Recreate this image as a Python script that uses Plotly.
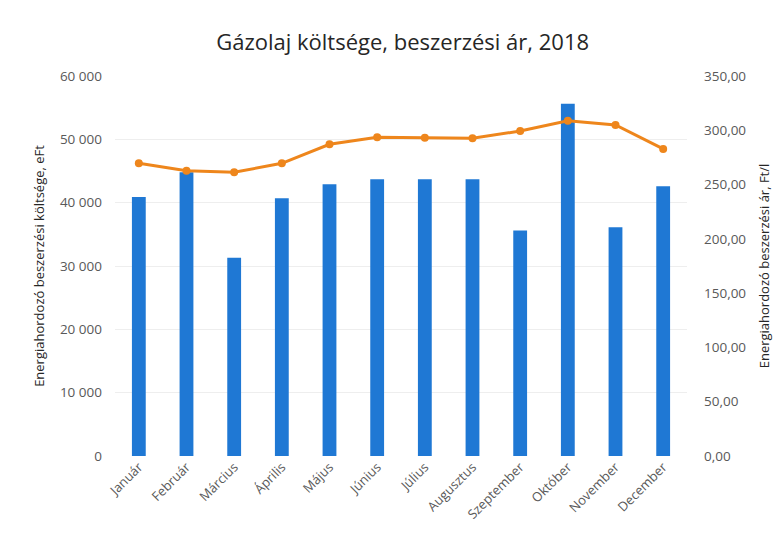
import plotly.graph_objects as go

months = ["Január", "Február", "Március", "Április", "Május", "Június",
          "Július", "Augusztus", "Szeptember", "Október", "November", "December"]
cost_eft = [40900, 44800, 31300, 40700, 42900, 43700, 43700, 43700, 35600, 55600, 36100, 42600]
price_ft_l = [269.6, 262.8, 261.3, 269.6, 287.1, 293.5, 293.2, 292.6, 299.3, 308.8, 304.9, 282.8]

left_ticks = [0, 10000, 20000, 30000, 40000, 50000, 60000]
right_ticks = [0, 50, 100, 150, 200, 250, 300, 350]

font_family = "Open Sans, Noto Sans, sans-serif"
tick_color = "#595959"

fig = go.Figure()
fig.add_trace(go.Bar(
    x=months, y=cost_eft, name="Költség",
    marker=dict(color="#1f78d4", line=dict(width=0)),
    yaxis="y",
))
fig.add_trace(go.Scatter(
    x=months, y=price_ft_l, name="Ár",
    mode="lines+markers",
    line=dict(color="#ee861c", width=3),
    marker=dict(color="#ee861c", size=8),
    yaxis="y2",
))

fig.update_layout(
    width=783, height=540,
    margin=dict(l=107, r=104, t=68, b=92),
    paper_bgcolor="white", plot_bgcolor="white",
    separators=", ",
    showlegend=False,
    bargap=0.71,
    font=dict(family=font_family, color=tick_color, size=12),
    title=dict(text="Gázolaj költsége, beszerzési ár, 2018",
               x=0.504, xanchor="center", y=0.937, yanchor="middle",
               font=dict(size=22, color="#262626", family=font_family)),
    xaxis=dict(
        range=[-0.5, 11.5],
        tickangle=-45, tickfont=dict(size=13, color=tick_color),
        showgrid=False, showline=False, ticks="", automargin=False,
    ),
    yaxis=dict(
        range=[0, 60000], tickvals=left_ticks, tickformat=",.0f",
        tickfont=dict(size=13.5, color=tick_color),
        showgrid=True, gridcolor="#eeeeee", zeroline=False, automargin=False,
        title=dict(text="Energiahordozó beszerzési költsége, eFt",
                   font=dict(size=13, color="#262626"), standoff=12),
        ticklabelstandoff=12,
    ),
    yaxis2=dict(
        range=[0, 350], tickvals=right_ticks, tickformat=".2f",
        overlaying="y", side="right", automargin=False,
        tickfont=dict(size=13.5, color=tick_color),
        showgrid=False, zeroline=False,
        title=dict(text="Energiahordozó beszerzési ár, Ft/l",
                   font=dict(size=13, color="#262626"), standoff=14),
        ticklabelstandoff=16,
    ),
)

fig.write_html("out.html")
